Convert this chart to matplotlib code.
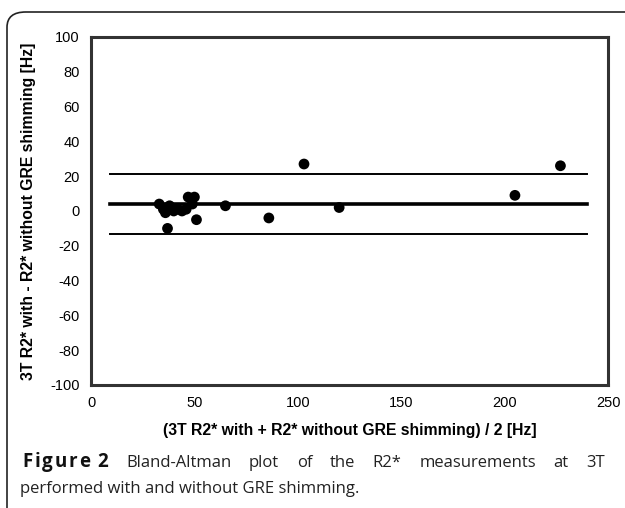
import matplotlib
matplotlib.use("Agg")
import matplotlib.pyplot as plt
from matplotlib.patches import FancyBboxPatch

plt.rcParams["axes.unicode_minus"] = False

# Bland-Altman data
mean_vals = [33, 35, 36, 37, 38, 40, 42, 44, 46, 47, 50, 49, 51, 65, 86, 103, 120, 205, 227]
diff_vals = [4, 1, -1, -10, 3, 0, 1, 0, 1, 8, 8, 4, -5, 3, -4, 27, 2, 9, 26]
bias = 3.8
upper_loa = 21.3
lower_loa = -13.5
line_x = [9, 240]

xticks = [0, 50, 100, 150, 200, 250]
yticks = list(range(-100, 101, 20))

DARK = "#333333"

fig = plt.figure(figsize=(6.25, 5.08), dpi=100)
fig.patch.set_facecolor("white")

# rounded outer frame (only top-left corner fully inside the image)
frame = FancyBboxPatch((7 / 625, -0.05), 1.1, 1 - 12 / 508 + 0.05,
                       boxstyle="round,pad=0,rounding_size=0.03",
                       transform=fig.transFigure, facecolor="none",
                       edgecolor="#222222", lw=1.2)
fig.patches.append(frame)

ax = fig.add_axes([91 / 625, 1 - 385 / 508, (608 - 91) / 625, (385 - 37) / 508])
ax.scatter(mean_vals, diff_vals, s=60, color="black", zorder=3, edgecolors="none")
ax.plot(line_x, [bias, bias], color="black", lw=2.6)
ax.plot(line_x, [upper_loa, upper_loa], color="black", lw=1.4)
ax.plot(line_x, [lower_loa, lower_loa], color="black", lw=1.4)

ax.set_xlim(0, 250)
ax.set_ylim(-100, 100)
ax.set_xticks(xticks)
ax.set_yticks(yticks)
ax.tick_params(length=0, labelsize=10.5, pad=8, colors="black")
for lab in ax.get_xticklabels() + ax.get_yticklabels():
    lab.set_family("Liberation Sans")
for sp in ax.spines.values():
    sp.set_color(DARK)
    sp.set_linewidth(2.2)

ax.set_xlabel("(3T R2* with + R2* without GRE shimming) / 2 [Hz]",
              family="Liberation Sans", fontweight="bold", fontsize=11.3, labelpad=9)
ax.set_ylabel("3T R2* with - R2* without GRE shimming [Hz]",
              family="Liberation Sans", fontweight="bold", fontsize=11.3, labelpad=10)

# caption, first line justified between x=20 and x=605 px
fig.canvas.draw()
r = fig.canvas.get_renderer()
y1 = 1 - 467 / 508
bold = dict(family="Open Sans", fontsize=13.5, fontweight="bold",
            va="baseline", color="#111111")

# "Figure" letter-spaced: place each char at its prefix width plus tracking
track = 1.9
probe = fig.text(0, 0, "", **bold)
word = "Figure"
for i, ch in enumerate(word):
    probe.set_text(word[:i] if i else "")
    pw = probe.get_window_extent(r).width if i else 0
    fig.text((22 + pw + i * track) / 625, y1, ch, **bold)
probe.set_text(word)
fig_end = 22 + probe.get_window_extent(r).width + (len(word) - 1) * track
two = fig.text((fig_end + 8) / 625, y1, "2", **bold)
head_end = fig_end + 8 + two.get_window_extent(r).width
probe.set_text("")

words = ["Bland-Altman", "plot", "of", "the", "R2*", "measurements", "at", "3T"]
arts = [fig.text(0, y1, w, family="Open Sans", fontsize=12, va="baseline",
                 color="#222222") for w in words]
widths = [a.get_window_extent(r).width for a in arts]
gap = (605 - head_end - sum(widths)) / len(words)
x = head_end + gap
for a, w in zip(arts, widths):
    a.set_x(x / 625)
    x += w + gap
fig.text(20 / 625, 1 - 493 / 508, "performed with and without GRE shimming.",
         family="Open Sans", fontsize=12, va="baseline", color="#222222")

fig.savefig("out.png", dpi=100, facecolor="white")
